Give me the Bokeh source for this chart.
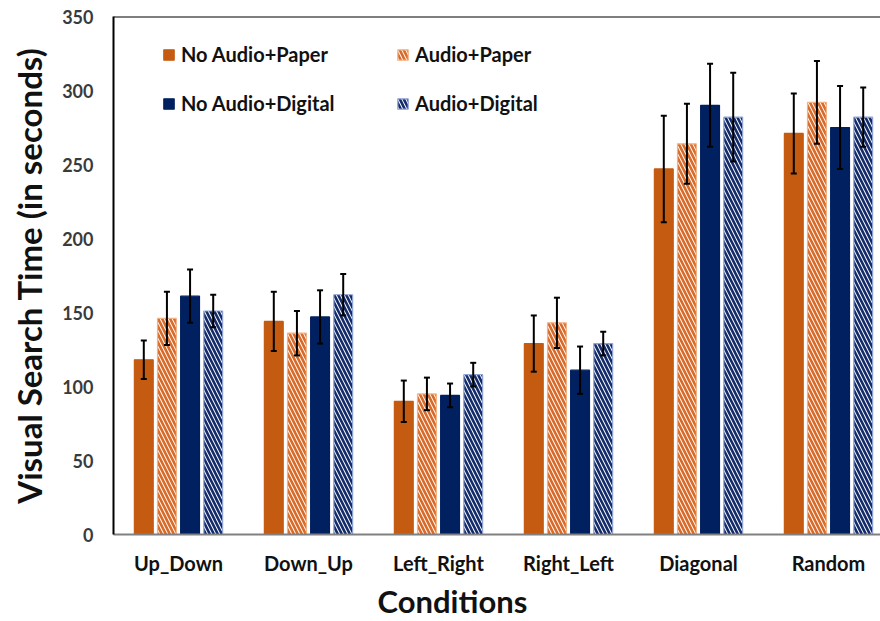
from bokeh.plotting import figure
from bokeh.models import (ColumnDataSource, Range1d, FixedTicker, Whisker, TeeHead,
                          Span, Legend, LegendItem, Title)
from bokeh.embed import file_html
from bokeh.resources import INLINE

# Mean visual search time (seconds) and error (±) per condition and setup
conditions = ["Up_Down", "Down_Up", "Left_Right", "Right_Left", "Diagonal", "Random"]

no_audio_paper = [118, 144, 90, 129, 247, 271]
no_audio_paper_err = [13, 20, 14, 19, 36, 27]

audio_paper = [146, 136, 95, 143, 264, 292]
audio_paper_err = [18, 15, 11, 17, 27, 28]

no_audio_digital = [161, 147, 94, 111, 290, 275]
no_audio_digital_err = [18, 18, 8, 16, 28, 28]

audio_digital = [151, 162, 108, 129, 282, 282]
audio_digital_err = [11, 14, 8, 8, 30, 20]

y_ticks = [0, 50, 100, 150, 200, 250, 300, 350]

ORANGE = "#C55A11"
ORANGE_HATCH = "#D86A2A"
ORANGE_EDGE = "#F4B183"
NAVY = "#002060"
NAVY_HATCH = "#142C6C"
NAVY_EDGE = "#8FA3D6"

FONT = "Lato"

p = figure(width=880, height=621, output_backend="svg", toolbar_location=None,
           x_range=Range1d(-0.5, 5.4), y_range=Range1d(0, 350),
           min_border_left=113, min_border_right=0, min_border_top=16,
           min_border_bottom=85)
p.outline_line_color = None
p.grid.grid_line_color = None
p.background_fill_color = "white"
p.border_fill_color = "white"

series = [
    ("No Audio+Paper", no_audio_paper, no_audio_paper_err,
     dict(fill_color=ORANGE, line_color=ORANGE)),
    ("Audio+Paper", audio_paper, audio_paper_err,
     dict(fill_color="white", line_color=ORANGE_EDGE, hatch_pattern="\\",
          hatch_color=ORANGE_HATCH, hatch_scale=8, hatch_weight=2.6)),
    ("No Audio+Digital", no_audio_digital, no_audio_digital_err,
     dict(fill_color=NAVY, line_color=NAVY)),
    ("Audio+Digital", audio_digital, audio_digital_err,
     dict(fill_color="white", line_color=NAVY_EDGE, hatch_pattern="\\",
          hatch_color=NAVY_HATCH, hatch_scale=8, hatch_weight=2.6)),
]

step = 0.178
bar_w = 0.145
renderers = {}
whisker_sources = []
for k, (name, vals, errs, style) in enumerate(series):
    off = (k - 1.5) * step
    xs = [i + off for i in range(len(conditions))]
    src = ColumnDataSource(dict(
        x=xs, top=vals,
        upper=[v + e for v, e in zip(vals, errs)],
        lower=[v - e for v, e in zip(vals, errs)],
    ))
    r = p.vbar(x="x", top="top", width=bar_w, bottom=0, source=src,
               line_width=1.2, **style)
    renderers[name] = r
    whisker_sources.append(src)

# error bars drawn on top of the bars
for src in whisker_sources:
    w = Whisker(base="x", upper="upper", lower="lower", source=src,
                level="overlay", line_color="black", line_width=2,
                upper_head=TeeHead(size=6, line_color="black", line_width=2),
                lower_head=TeeHead(size=6, line_color="black", line_width=2))
    p.add_layout(w)

# top frame line
p.add_layout(Span(location=350, dimension="width", line_color="black", line_width=2))

# axes
p.xaxis.ticker = FixedTicker(ticks=list(range(len(conditions))))
p.xaxis.major_label_overrides = {i: c for i, c in enumerate(conditions)}
p.xaxis.major_tick_line_color = None
p.xaxis.minor_tick_line_color = None
p.xaxis.axis_line_color = "#808080"
p.xaxis.axis_line_width = 2
p.xaxis.major_label_text_font = FONT
p.xaxis.major_label_text_font_style = "bold"
p.xaxis.major_label_text_font_size = "20px"
p.xaxis.major_label_text_color = "#111111"
p.xaxis.major_label_standoff = 10

p.yaxis.ticker = FixedTicker(ticks=y_ticks)
p.yaxis.major_tick_line_color = None
p.yaxis.minor_tick_line_color = None
p.yaxis.axis_line_color = "black"
p.yaxis.axis_line_width = 2
p.yaxis.major_label_text_font = FONT
p.yaxis.major_label_text_font_style = "bold"
p.yaxis.major_label_text_font_size = "18px"
p.yaxis.major_label_text_color = "#3a3a3a"
p.yaxis.major_label_standoff = 14
p.yaxis.axis_label = "Visual Search Time (in seconds)"
p.yaxis.axis_label_text_font = FONT
p.yaxis.axis_label_text_font_style = "bold"
p.yaxis.axis_label_text_font_size = "33px"
p.yaxis.axis_label_text_color = "#111111"
p.yaxis.axis_label_standoff = 10

# x axis title, set below the category labels
p.add_layout(Title(text="Conditions", align="left", offset=264, standoff=4,
                   text_font=FONT, text_font_style="bold", text_font_size="31px",
                   text_color="#111111"), "below")


def make_legend(names, loc):
    lg = Legend(items=[LegendItem(label=n, renderers=[renderers[n]]) for n in names],
                location=loc, orientation="vertical",
                label_text_font=FONT, label_text_font_style="bold",
                label_text_font_size="20px", label_text_color="#111111",
                glyph_width=13, glyph_height=13, label_standoff=6,
                label_height=20, spacing=25, padding=0, margin=0,
                border_line_color=None, background_fill_alpha=0)
    p.add_layout(lg)


make_legend(["No Audio+Paper", "No Audio+Digital"], (49, 419))
make_legend(["Audio+Paper", "Audio+Digital"], (283, 419))

open("out.html", "w").write(file_html(p, INLINE))
